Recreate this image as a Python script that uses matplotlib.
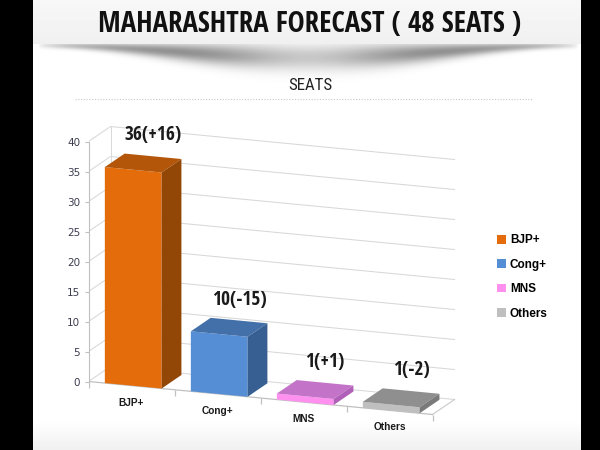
import numpy as np
import matplotlib
matplotlib.use("Agg")
import matplotlib.pyplot as plt
from matplotlib import font_manager as fm
from matplotlib.patches import Polygon
from matplotlib.lines import Line2D
from matplotlib.textpath import TextPath
from matplotlib.transforms import Affine2D

# Maharashtra forecast, 48 seats
parties = ["BJP+", "Cong+", "MNS", "Others"]
seats = [36, 10, 1, 1]
change = [16, -15, 1, -2]
yticks = [0, 5, 10, 15, 20, 25, 30, 35, 40]

title = "MAHARASHTRA FORECAST ( 48 SEATS )"
subtitle = "SEATS"

front_cols = ["#e46c0a", "#558ed5", "#ff90f0", "#bfbfbf"]
top_cols = ["#b3560a", "#4470aa", "#c474c8", "#8f8f8f"]
side_cols = ["#934706", "#385f92", "#b060b8", "#7a7a7a"]

bases = ["DejaVu Sans", "Liberation Sans", "Noto Sans", "Roboto", "Open Sans", "Lato", "Inter"]
widths = ["", " Condensed", " SemiCondensed", " ExtraCondensed", " Narrow"]
allowed = {b + w for b in bases for w in widths}
BOLD = ("bold", "700")
REGULAR = ("normal", "regular", "400", "book")


def ink(fname, s):
    return TextPath((0, 0), s, prop=fm.FontProperties(fname=fname, size=100)).get_extents()


def pick_narrow(weights):
    # headings use a condensed face: take the narrowest plain sans we have
    best = None
    for f in fm.fontManager.ttflist:
        if f.name not in allowed or f.style != "normal" or str(f.weight) not in weights:
            continue
        try:
            ratio = ink(f.fname, title).width / ink(f.fname, "H").height
        except Exception:
            continue
        if best is None or ratio < best[0]:
            best = (ratio, f)
    return best[1] if best else None


bold_f = pick_narrow(BOLD)
reg_f = pick_narrow(REGULAR) or bold_f

# sizes (pt) so the ink widths match the picture (px * 0.72 at 100 dpi)
title_fp = fm.FontProperties(fname=bold_f.fname, size=100 * 420 * 0.72 / ink(bold_f.fname, title).width)
sub_fp = fm.FontProperties(fname=reg_f.fname, size=100 * 43 * 0.72 / ink(reg_f.fname, subtitle).width)
val_fp = fm.FontProperties(fname=bold_f.fname, size=100 * 56 * 0.72 / ink(bold_f.fname, "36(+16)").width)

W, H = 600, 450
fig = plt.figure(figsize=(6, 4.5), dpi=100)

# background: title band, curled shadow, black side borders
bg = fig.add_axes([0, 0, 1, 1], zorder=0)
yy, xx = np.mgrid[0:H, 0:W].astype(float)
img = np.ones((H, W))
band = yy < 44
img[band] = 0.97 - 0.03 * yy[band] / 44
u = np.clip((xx - 38) / 540, 0, 1)
s = np.sin(np.pi * u)
amp = 0.55 * np.sqrt(s) * (1 - 0.6 * np.exp(-((u - 0.5) / 0.17) ** 2))
cen = 45 + 12 * s ** 2
wid = 3 + 10 * s ** 2
shade = amp * np.exp(-((yy - cen) / wid) ** 2)
shade[band] = 0
img = img - shade
img -= 0.06 * np.clip((yy - 420) / 30, 0, 1)
img[:, :33] = 0
img[:, 581:] = 0
bg.imshow(img, cmap="gray", vmin=0, vmax=1, extent=(0, W, H, 0),
          aspect="auto", interpolation="bilinear")
bg.set_xlim(0, W)
bg.set_ylim(H, 0)
bg.axis("off")

fig.text(310 / W, 1 - 24 / H, title, ha="center", va="center",
         fontproperties=title_fp, color="#111111", zorder=3)
fig.text(310 / W, 1 - 85 / H, subtitle, ha="center", va="center",
         fontproperties=sub_fp, color="#222222", zorder=3)
fig.add_artist(Line2D([75 / W, 533 / W], [1 - 99 / H, 1 - 99 / H], color="#c8c8c8",
                      lw=0.8, ls=(0, (1, 1.5)), zorder=3))

ax = fig.add_axes([88.5 / W, (H - 429.5) / H, 387 / W, 318 / H], zorder=2)
ax.set_xlim(0, 4.5)
ax.set_ylim(-8, 45)
ax.patch.set_alpha(0)
for side in ["top", "right", "bottom"]:
    ax.spines[side].set_visible(False)
ax.spines["left"].set_bounds(0, 40)
ax.spines["left"].set_color("#c0c0c0")
ax.set_yticks(yticks)
ax.tick_params(axis="y", length=3, color="#c0c0c0", labelcolor="#3c3c50", labelsize=7.5, pad=3)
ax.set_xticks([])

# fake 3d: floor drops to the right, depth goes up-right
tilt = 1.375
shear = Affine2D.from_values(1, -tilt, 0, 1, 0, 0) + ax.transData
ddx, ddy = 0.256, 2.85
bar_depth = 0.9
n = len(parties)
x0 = np.arange(n) + 0.19
bw = 0.66

grid_c = "#d8d8d8"
for v in yticks:
    ax.plot([0, ddx, n + ddx], [v, v + ddy, v + ddy], color=grid_c, lw=0.75,
            transform=shear, zorder=1)
ax.plot([ddx, ddx], [ddy, 40 + ddy], color=grid_c, lw=0.7, transform=shear, zorder=1)
ax.plot([n, n + ddx], [0, ddy], color="#c8c8c8", lw=0.8, transform=shear, zorder=1)
ax.plot([0, n], [0, 0], color="#c0c0c0", lw=0.9, transform=shear, zorder=1)
ax.plot(np.arange(n + 1), np.zeros(n + 1), ls="none", marker=3, ms=4, mew=0.9,
        color="#c0c0c0", transform=shear, zorder=1)

fronts = ax.bar(x0, seats, width=bw, align="edge", color=front_cols, transform=shear, zorder=3)
dx, dy = ddx * bar_depth, ddy * bar_depth
for i, v in enumerate(seats):
    xl, xr = x0[i], x0[i] + bw
    ax.add_patch(Polygon([(xl, v), (xr, v), (xr + dx, v + dy), (xl + dx, v + dy)],
                         closed=True, fc=top_cols[i], ec="none", transform=shear, zorder=3))
    ax.add_patch(Polygon([(xr, 0), (xr, v), (xr + dx, v + dy), (xr + dx, dy)],
                         closed=True, fc=side_cols[i], ec="none", transform=shear, zorder=3))
    ax.annotate(f"{v}({change[i]:+d})", xy=(xl + bw / 2 + dx, v + dy), xycoords=shear,
                xytext=(0, 15), textcoords="offset points", ha="center", va="center",
                fontproperties=val_fp, color="#1a1a1a")
    ax.annotate(parties[i], xy=(i + 0.5, 0), xycoords=shear, xytext=(0, -12.2),
                textcoords="offset points", ha="center", va="center", fontsize=7.3,
                fontweight="bold", family="Liberation Sans", color="#1a1a1a")

fig.legend(fronts, parties, loc="center left", bbox_to_anchor=(497 / W, 1 - 277 / H),
           frameon=False, prop=dict(family="Liberation Sans", weight="bold", size=8.5),
           handlelength=0.75, handleheight=0.75, handletextpad=0.35, labelspacing=1.05,
           borderpad=0, borderaxespad=0)

fig.savefig("out.png", dpi=100)
